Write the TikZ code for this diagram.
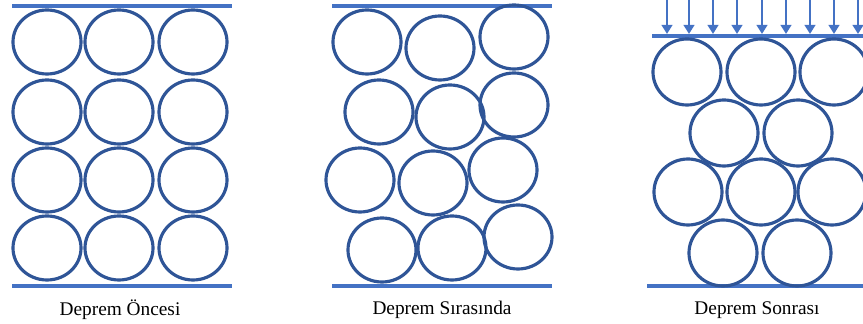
\documentclass[tikz,border=0pt]{standalone}
\usepackage{fontspec}
\setmainfont{Liberation Serif}
\usepackage{xcolor}
\definecolor{grainBlue}{HTML}{2F5597}
\definecolor{plateBlue}{HTML}{4472C4}
\usetikzlibrary{arrows.meta}
\tikzset{
    % Soil grain outline
    grain/.style={
        draw=grainBlue,
        line width=1.8pt,
    },
    % Top and bottom plates
    plate/.style={
        draw=plateBlue,
        line width=2.8pt,
    },
    % Load arrows on the last panel
    load arrow/.style={
        -{Triangle[length=1.8mm, width=2.1mm]},
        draw=plateBlue,
        fill=plateBlue,
        line width=1.5pt,
    },
    % Captions under the panels
    caption/.style={
        font=\fontsize{11}{13}\selectfont,
        text=black,
        inner sep=0pt,
    },
}

\begin{document}
\begin{tikzpicture}[x=0.02cm, y=-0.02cm]
    \useasboundingbox (0,0) rectangle (863,324);
    \clip (0,0) rectangle (863,324);

    % Before
    \draw[plate] (12,6) -- (232,6);
    \draw[plate] (12,286) -- (232,286);
    \foreach \cx in {47,119,193}
        \foreach \cy in {42,112,180,248}
            \draw[grain] (\cx,\cy) ellipse [x radius=34, y radius=32];
    \node (capBefore) [caption] at (120,310) {Deprem Öncesi};

    % During
    \draw[plate] (332,6) -- (552,6);
    \draw[plate] (332,286) -- (552,286);
    \foreach \cx/\cy in {367/42, 440/48, 514/37,
                         379/112, 450/117, 514/105,
                         360/180, 433/183, 503/170,
                         382/250, 452/248, 518/237}
        \draw[grain] (\cx,\cy) ellipse [x radius=34, y radius=32];
    \node (capDuring) [caption] at (442,310) {Deprem Sırasında};

    % After
    \foreach \ax in {667,689,713,737,762,786,810,834,858}
        \draw[load arrow] (\ax,0) -- (\ax,34);
    \draw[plate] (652,36) -- (863,36);
    \draw[plate] (647,286) -- (863,286);
    \foreach \cx/\cy in {687/72, 761/72, 834/72,
                         724/133, 798/133,
                         688/192, 761/192, 832/192,
                         723/253, 797/253}
        \draw[grain] (\cx,\cy) ellipse [x radius=34, y radius=33];
    \node (capAfter) [caption] at (757,310) {Deprem Sonrası};
\end{tikzpicture}
\end{document}
